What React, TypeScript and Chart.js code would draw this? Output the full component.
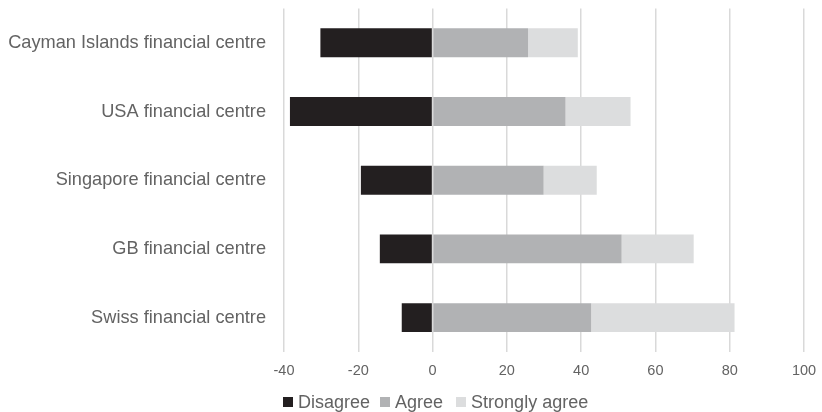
import React, { useEffect, useRef } from "react";
import { Chart, registerables } from "chart.js";

Chart.register(...registerables);

const categories = [
  "Cayman Islands financial centre",
  "USA financial centre",
  "Singapore financial centre",
  "GB financial centre",
  "Swiss financial centre",
];
const disagree = [-30.2, -38.4, -19.3, -14.2, -8.3];
const agree = [25.7, 35.8, 29.9, 50.9, 42.7];
const stronglyAgree = [13.4, 17.5, 14.3, 19.4, 38.6];
const seriesNames = ["Disagree", "Agree", "Strongly agree"];
const seriesColors = ["#231f20", "#b1b2b4", "#dcddde"];
const xMin = -40;
const xMax = 100;
const xStep = 20;

const FONT = "'Liberation Sans', Arial, sans-serif";
const TEXT = "#636363";

export default function App() {
  const ref = useRef<HTMLCanvasElement | null>(null);

  useEffect(() => {
    if (!ref.current) return;
    const data = [disagree, agree, stronglyAgree];
    const chart = new Chart(ref.current, {
      type: "bar",
      data: {
        labels: categories,
        datasets: seriesNames.map((name, i) => ({
          label: name,
          data: data[i],
          backgroundColor: seriesColors[i],
          borderWidth: 0,
          barPercentage: 0.42,
          categoryPercentage: 1,
        })),
      },
      options: {
        indexAxis: "y",
        animation: false,
        responsive: true,
        maintainAspectRatio: false,
        layout: { padding: { top: 8.4, right: 18, bottom: 30, left: 0 } },
        plugins: {
          legend: { display: false },
          tooltip: { enabled: false },
        },
        scales: {
          x: {
            stacked: true,
            min: xMin,
            max: xMax,
            ticks: {
              stepSize: xStep,
              color: TEXT,
              font: { family: FONT, size: 14.5 },
              padding: 10,
            },
            grid: {
              color: "#d9d9d9",
              lineWidth: 1.5,
              drawTicks: false,
            },
            border: { display: false },
            afterFit: (scale: any) => {
              scale.height = 30;
              scale.paddingLeft = 0;
              scale.paddingRight = 0;
            },
          },
          y: {
            stacked: true,
            ticks: {
              color: TEXT,
              font: { family: FONT, size: 18.2 },
              padding: 18,
              autoSkip: false,
            },
            grid: { display: false, drawTicks: false },
            border: { display: false },
            afterFit: (scale: any) => {
              scale.width = 284;
              scale.paddingTop = 0;
              scale.paddingBottom = 0;
            },
          },
        },
      },
    });
    return () => chart.destroy();
  }, []);

  const gaps = [10, 13, 0];

  return (
    <div style={{ position: "relative", width: 822, height: 412, overflow: "hidden" }}>
      <style>{"html,body{margin:0;padding:0;overflow:hidden}"}</style>
      <canvas ref={ref} style={{ display: "block" }} />
      <div
        style={{
          position: "absolute",
          left: 283,
          top: 393,
          height: 18,
          display: "flex",
          alignItems: "center",
          fontFamily: FONT,
          fontSize: 18,
          color: TEXT,
          lineHeight: "18px",
          whiteSpace: "nowrap",
        }}
      >
        {seriesNames.map((name, i) => (
          <span
            key={name}
            style={{ display: "flex", alignItems: "center", marginRight: gaps[i] }}
          >
            <span
              style={{
                display: "inline-block",
                width: 10,
                height: 10,
                background: seriesColors[i],
                marginRight: 5,
              }}
            />
            {name}
          </span>
        ))}
      </div>
    </div>
  );
}
